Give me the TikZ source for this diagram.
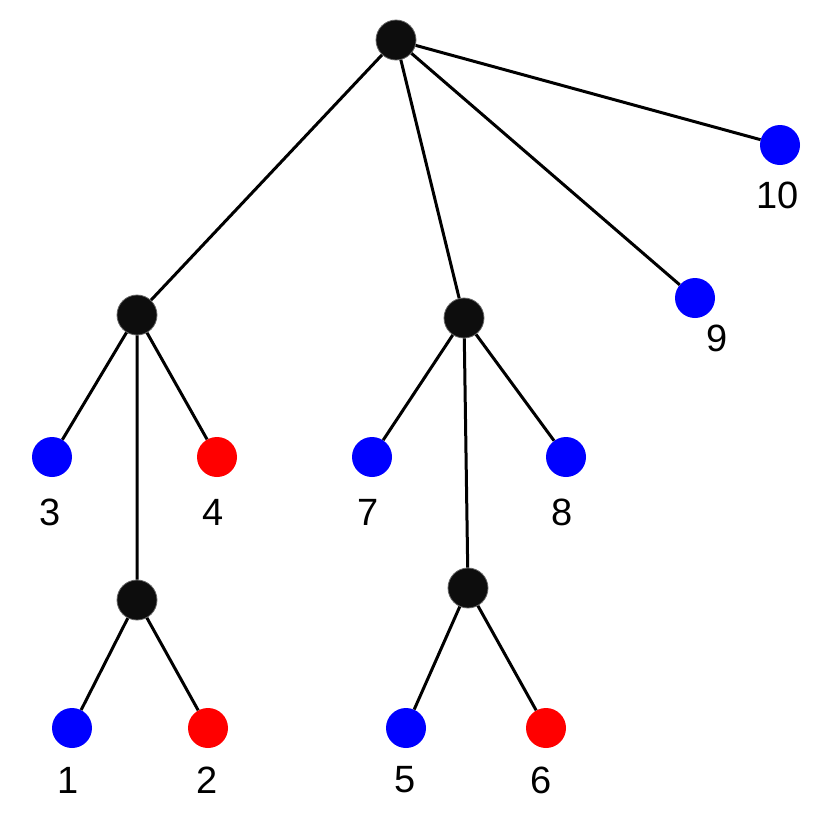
\documentclass[tikz,border=0pt]{standalone}
\usepackage{fontspec}
\setmainfont{Liberation Sans}
\begin{document}
\begin{tikzpicture}[x=1pt,y=-1pt,
  dot/.style={circle,minimum size=40pt,inner sep=0pt},
  inner/.style={dot,fill=black!95,draw=black!60,line width=0.8pt},
  blue/.style={dot,fill=blue},
  red/.style={dot,fill=red},
  lbl/.style={font=\fontsize{38}{40}\selectfont,inner sep=0pt},
  edge/.style={line width=3pt}]
\useasboundingbox (0,0) rectangle (831,831);
\node[inner] (r) at (396,40) {};
\node[inner] (a) at (137,315) {};
\node[inner] (b) at (464,318) {};
\node[inner] (c) at (137,600) {};
\node[inner] (d) at (468,588) {};
\node[blue] (n3) at (52,457) {};
\node[red] (n4) at (217,457) {};
\node[blue] (n7) at (372,457) {};
\node[blue] (n8) at (566,457) {};
\node[blue] (n9) at (695,298) {};
\node[blue] (n10) at (780,145) {};
\node[blue] (n1) at (72,728) {};
\node[red] (n2) at (208,728) {};
\node[blue] (n5) at (406,728) {};
\node[red] (n6) at (546,728) {};
\begin{scope}[on background layer/.style={}]
\end{scope}
\node[lbl] (l3) at (50,512) {3};
\node[lbl] (l4) at (213,512) {4};
\node[lbl] (l7) at (368,512) {7};
\node[lbl] (l8) at (562,512) {8};
\node[lbl] (l9) at (717,338) {9};
\node[lbl] (l10) at (778,195) {10};
\node[lbl] (l1) at (68,780) {1};
\node[lbl] (l2) at (207,780) {2};
\node[lbl] (l5) at (405,780) {5};
\node[lbl] (l6) at (541,780) {6};
\draw[edge] (r)--(a) (r)--(b) (r)--(n9) (r)--(n10)
 (a)--(n3) (a)--(n4) (a)--(c) (b)--(n7) (b)--(n8) (b)--(d)
 (c)--(n1) (c)--(n2) (d)--(n5) (d)--(n6);
\end{tikzpicture}
\end{document}
